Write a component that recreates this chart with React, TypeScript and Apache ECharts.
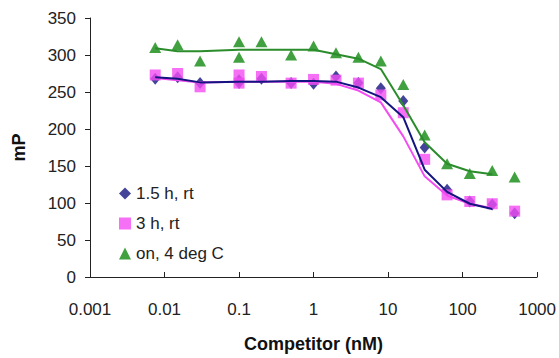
import React, { useEffect, useRef } from "react";
import * as echarts from "echarts";

const X_POINTS = [0.0075, 0.015, 0.03, 0.1, 0.1, 0.2, 0.5, 1, 2, 4, 8, 16, 31, 62, 125, 250, 500];
const BLUE_POINTS = [268, 270, 262, 266, 262, 268, 262, 261, 271, 262, 255, 238, 175, 118, 102, 98, 86];
const PINK_POINTS = [273, 275, 257, 273, 262, 271, 262, 267, 266, 262, 246, 222, 159, 111, 102, 99, 89];
const GREEN_POINTS = [310, 314, 292, 318, 297, 318, 300, 312, 303, 297, 292, 260, 192, 153, 140, 144, 135];

const X_FIT = [0.0075, 0.015, 0.03, 0.1, 0.2, 0.5, 1, 2, 4, 8, 16, 31, 62, 125, 250];
const BLUE_FIT = [270, 268, 263, 264, 264, 265, 265, 264, 256, 243, 216, 145, 115, 99, 92];
const PINK_FIT = [269, 266, 263, 264, 264, 264, 264, 261, 252, 236, 190, 136, 110, 99, 93];
const GREEN_FIT = [309, 305, 305, 307, 307, 307, 307, 301, 295, 281, 232, 182, 153, 143, 139];

const X_TICK_LABELS = ["0.001", "0.01", "0.1", "1", "10", "100", "1000"];
const SERIES_NAMES = ["1.5 h, rt", "3 h, rt", "on, 4 deg C"];

const BLUE = "#141480";
const PINK = "#f24cf2";
const GREEN = "#128a12";
const FONT = "Arial, 'Liberation Sans', sans-serif";

const pair = (xs: number[], ys: number[]) => xs.map((x, i) => [x, ys[i]]);

export default function App() {
  const ref = useRef<HTMLDivElement>(null);
  useEffect(() => {
    if (!ref.current) return;
    const chart = echarts.init(ref.current, undefined, { renderer: "svg" });
    chart.setOption({
      animation: false,
      backgroundColor: "#ffffff",
      grid: { left: 90, right: 20, top: 18, bottom: 74 },
      legend: {
        orient: "vertical",
        left: 114,
        top: 180,
        itemWidth: 12,
        itemHeight: 12,
        itemGap: 13,
        textStyle: { fontSize: 17, color: "#222", fontFamily: FONT },
        data: [
          { name: SERIES_NAMES[0], icon: "diamond" },
          { name: SERIES_NAMES[1], icon: "rect" },
          { name: SERIES_NAMES[2], icon: "triangle" },
        ],
      },
      xAxis: {
        type: "log",
        logBase: 10,
        min: 0.001,
        max: 1000,
        name: "Competitor (nM)",
        nameLocation: "middle",
        nameGap: 58,
        nameTextStyle: { fontSize: 18, fontWeight: "bold", color: "#111", fontFamily: FONT },
        axisLine: { lineStyle: { color: "#222", width: 1 } },
        axisTick: { inside: true, length: 5, lineStyle: { color: "#222" } },
        minorTick: { show: false },
        splitLine: { show: false },
        axisLabel: {
          fontSize: 17,
          color: "#222",
          fontFamily: FONT,
          margin: 24,
          formatter: (v: number) => X_TICK_LABELS[Math.round(Math.log10(v)) + 3] ?? "",
        },
      },
      yAxis: {
        type: "value",
        min: 0,
        max: 350,
        interval: 50,
        name: "mP",
        nameLocation: "middle",
        nameGap: 62,
        nameTextStyle: { fontSize: 18, fontWeight: "bold", color: "#111", fontFamily: FONT },
        axisLine: { show: true, lineStyle: { color: "#222", width: 1 } },
        axisTick: { show: true, length: 5, lineStyle: { color: "#222" } },
        splitLine: { show: false },
        axisLabel: { fontSize: 17, color: "#222", fontFamily: FONT, margin: 14 },
      },
      series: [
        {
          name: SERIES_NAMES[0],
          type: "scatter",
          symbol: "diamond",
          symbolSize: [10, 12],
          itemStyle: { color: BLUE },
          data: pair(X_POINTS, BLUE_POINTS),
          z: 2,
        },
        {
          name: SERIES_NAMES[1],
          type: "scatter",
          symbol: "rect",
          symbolSize: 11,
          itemStyle: { color: PINK },
          data: pair(X_POINTS, PINK_POINTS),
          z: 3,
        },
        {
          name: SERIES_NAMES[2],
          type: "scatter",
          symbol: "triangle",
          symbolSize: [12, 11],
          itemStyle: { color: GREEN },
          data: pair(X_POINTS, GREEN_POINTS),
          z: 4,
        },
        {
          name: "fit3",
          type: "line",
          showSymbol: false,
          symbol: "none",
          lineStyle: { color: PINK, width: 2 },
          data: pair(X_FIT, PINK_FIT),
          z: 5,
        },
        {
          name: "fit1",
          type: "line",
          showSymbol: false,
          symbol: "none",
          lineStyle: { color: BLUE, width: 2 },
          data: pair(X_FIT, BLUE_FIT),
          z: 6,
        },
        {
          name: "fit2",
          type: "line",
          showSymbol: false,
          symbol: "none",
          lineStyle: { color: "#2a8c2a", width: 2 },
          data: pair(X_FIT, GREEN_FIT),
          z: 6,
        },
      ],
    });
    return () => chart.dispose();
  }, []);
  return <div ref={ref} style={{ width: 559, height: 358, position: "absolute", left: 0, top: 0 }} />;
}
